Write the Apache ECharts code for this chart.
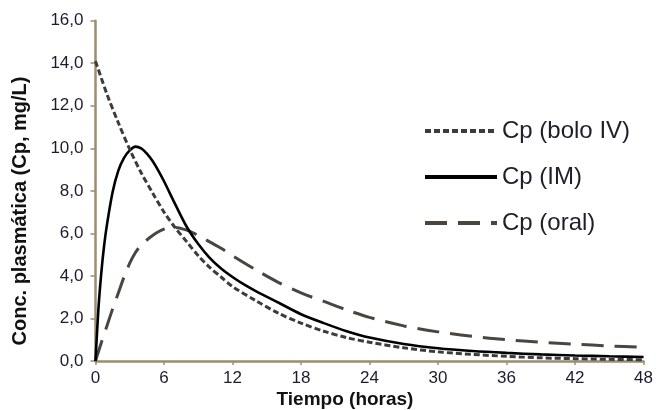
<!DOCTYPE html>
<html><head><meta charset="utf-8">
<script src="https://cdn.jsdelivr.net/npm/echarts@6/dist/echarts.min.js"></script>
<style>html,body{margin:0;padding:0;background:#fff}#c{width:656px;height:410px}</style>
</head><body><div id="c"></div><script>
const seriesNames = ['Cp (bolo IV)', 'Cp (IM)', 'Cp (oral)'];
const xTicks = [0, 6, 12, 18, 24, 30, 36, 42, 48];
const yTicks = [0, 2, 4, 6, 8, 10, 12, 14, 16];
const xTitle = 'Tiempo (horas)';
const yTitle = 'Conc. plasmática (Cp, mg/L)';

const ivTimes  = [0, 1, 2, 3, 4, 5, 6, 7, 8, 9, 10, 11, 12, 14, 16, 18, 20, 22, 24, 27, 30, 33, 36, 39, 42, 45, 48];
const ivValues = [14.1, 12.55, 11.2, 9.95, 8.85, 7.9, 7.0, 6.25, 5.6, 4.95, 4.4, 3.95, 3.5, 2.85, 2.25, 1.78, 1.4, 1.1, 0.88, 0.62, 0.43, 0.31, 0.22, 0.15, 0.11, 0.08, 0.06];

const imTimes  = [0, 0.25, 0.5, 0.75, 1, 1.5, 2, 2.5, 3, 3.5, 4, 4.5, 5, 5.5, 6, 7, 8, 9, 10, 11, 12, 13, 14, 16, 18, 20, 22, 24, 27, 30, 33, 36, 39, 42, 45, 48];
const imValues = [0, 2.4, 4.1, 5.4, 6.4, 7.95, 8.95, 9.55, 9.9, 10.08, 10.0, 9.75, 9.4, 8.95, 8.45, 7.35, 6.3, 5.5, 4.85, 4.35, 3.95, 3.6, 3.3, 2.75, 2.2, 1.78, 1.4, 1.1, 0.8, 0.6, 0.47, 0.38, 0.31, 0.26, 0.22, 0.19];

const oralTimes  = [0, 0.5, 1, 1.5, 2, 2.5, 3, 3.5, 4, 5, 6, 7, 8, 9, 10, 11, 12, 14, 16, 18, 20, 22, 24, 27, 30, 33, 36, 39, 42, 45, 48];
const oralValues = [0, 0.85, 1.65, 2.45, 3.2, 3.95, 4.6, 5.1, 5.45, 5.9, 6.2, 6.28, 6.15, 5.9, 5.6, 5.3, 4.95, 4.3, 3.7, 3.2, 2.8, 2.4, 2.05, 1.65, 1.37, 1.16, 1.0, 0.88, 0.79, 0.71, 0.64];

const pairs = (t, v) => t.map((x, i) => [x, v[i]]);
const FONT = "'Liberation Sans', Arial, sans-serif";
const axisColor = '#9b8e70';
const hide = {color: 'transparent', borderColor: 'transparent', borderWidth: 0};

const chart = echarts.init(document.getElementById('c'), null, {renderer: 'canvas'});
chart.setOption({
  animation: false,
  backgroundColor: '#ffffff',
  grid: {left: 95.5, right: 12, top: 20.7, bottom: 49, containLabel: false},
  legend: {
    orient: 'vertical', left: 418, top: 114, itemWidth: 72, itemHeight: 14, itemGap: 22,
    itemStyle: hide,
    lineStyle: {width: 4},
    textStyle: {fontSize: 24, fontFamily: FONT, color: '#1e1e2a'},
    data: seriesNames.map(n => ({name: n, itemStyle: hide}))
  },
  xAxis: {
    type: 'value', min: xTicks[0], max: xTicks[xTicks.length - 1], interval: 6,
    axisLine: {show: true, lineStyle: {color: axisColor, width: 2.5}},
    axisTick: {show: true, length: 4, lineStyle: {color: axisColor, width: 1.5}},
    axisLabel: {fontSize: 17, fontFamily: FONT, color: '#1c1c30', margin: 9},
    splitLine: {show: false}
  },
  yAxis: {
    type: 'value', min: yTicks[0], max: yTicks[yTicks.length - 1], interval: 2,
    axisLine: {show: true, lineStyle: {color: axisColor, width: 2.5}},
    axisTick: {show: true, length: 5, lineStyle: {color: axisColor, width: 1.5}},
    axisLabel: {fontSize: 17, fontFamily: FONT, color: '#1c1c30', margin: 12,
      formatter: v => v.toFixed(1).replace('.', ',')},
    splitLine: {show: false}
  },
  graphic: [
    {type: 'text', x: 20, y: 211, rotation: Math.PI / 2,
      style: {text: yTitle, font: 'bold 20px ' + FONT, fill: '#111', align: 'center', verticalAlign: 'middle'}},
    {type: 'text', x: 345, y: 400,
      style: {text: xTitle, font: 'bold 19px ' + FONT, fill: '#111', align: 'center', verticalAlign: 'middle'}}
  ],
  series: [
    {name: seriesNames[0], type: 'line', data: pairs(ivTimes, ivValues), showSymbol: false, symbol: 'none', smooth: 0.3,
      lineStyle: {color: '#3c3c3c', width: 3, type: [6, 3]}, itemStyle: {color: '#3c3c3c'}, z: 4},
    {name: seriesNames[1], type: 'line', data: pairs(imTimes, imValues), showSymbol: false, symbol: 'none', smooth: 0.3,
      lineStyle: {color: '#000000', width: 2.6, type: 'solid'}, itemStyle: {color: '#000000'}, z: 3},
    {name: seriesNames[2], type: 'line', data: pairs(oralTimes, oralValues), showSymbol: false, symbol: 'none', smooth: 0.3,
      lineStyle: {color: '#4a463f', width: 3, type: [22, 11]}, itemStyle: {color: '#4a463f'}, z: 2}
  ]
});
</script></body></html>
